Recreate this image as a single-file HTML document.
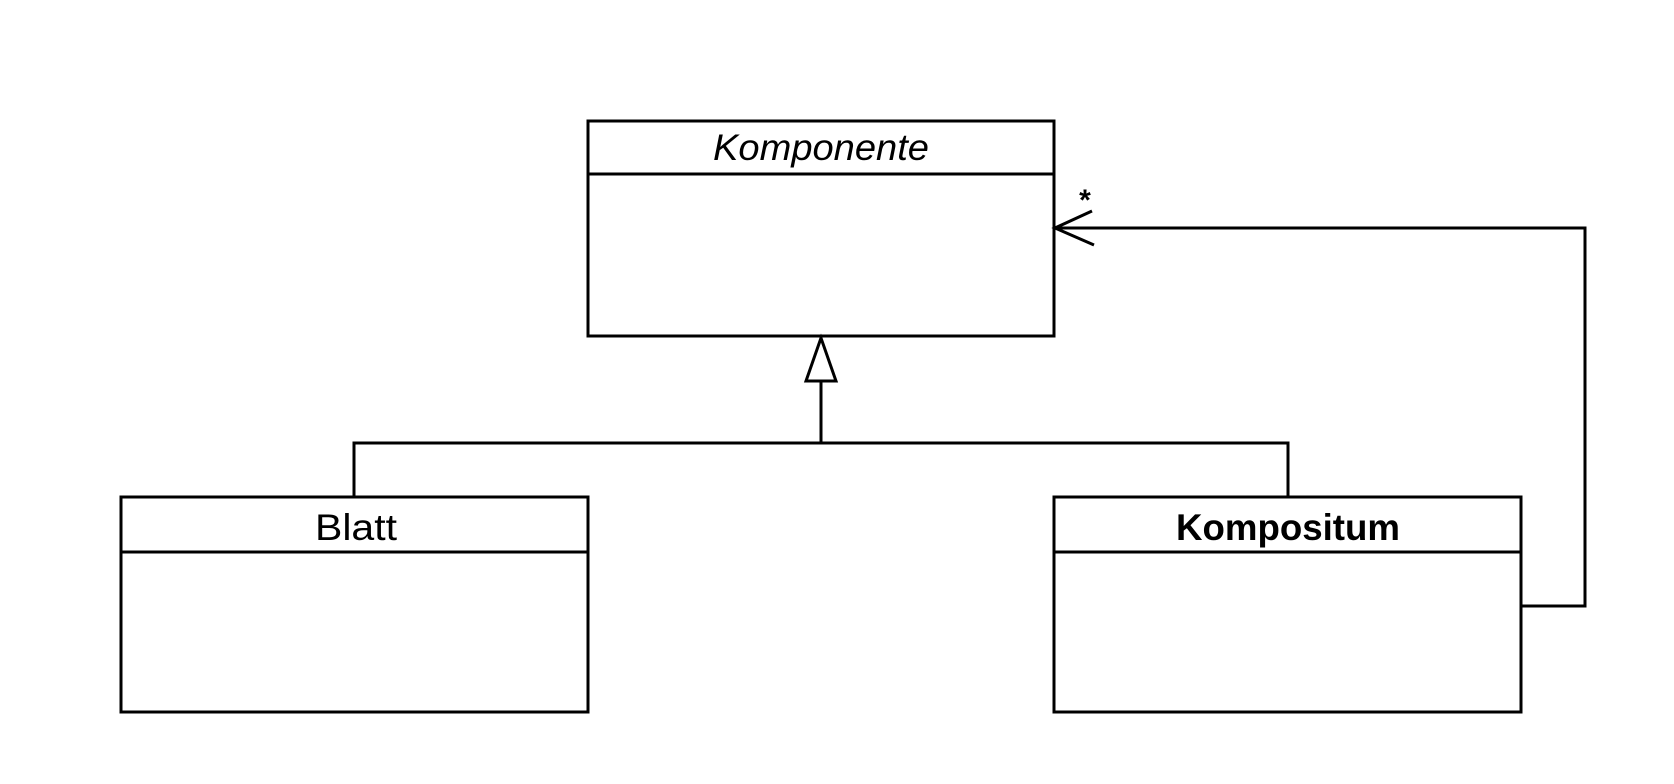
<!DOCTYPE html>
<html><head><meta charset="utf-8"><style>html,body{margin:0;padding:0;background:#fff;width:1674px;height:784px;overflow:hidden}</style></head>
<body>
<svg width="1674" height="784" viewBox="0 0 1674 784" xmlns="http://www.w3.org/2000/svg" font-family="'Liberation Sans', sans-serif" font-size="37">
<g fill="none" stroke="#000" stroke-width="3">
<rect x="588" y="121" width="466" height="215" fill="#fff"/>
<line x1="588" y1="174" x2="1054" y2="174"/>
<rect x="121" y="497" width="467" height="215" fill="#fff"/>
<line x1="121" y1="552" x2="588" y2="552"/>
<rect x="1054" y="497" width="467" height="215" fill="#fff"/>
<line x1="1054" y1="552" x2="1521" y2="552"/>
<polyline points="354,497 354,443 1288,443 1288,497"/>
<line x1="821" y1="443" x2="821" y2="381"/>
<polygon points="821,338 806,381 836,381" fill="#fff"/>
<polyline points="1521,606 1585,606 1585,228 1055,228"/>
<polyline points="1092,211 1055,228 1094,245"/>
</g>
<text x="713" y="160" textLength="216" lengthAdjust="spacingAndGlyphs" font-style="italic">Komponente</text>
<text x="315" y="540" textLength="82" lengthAdjust="spacingAndGlyphs">Blatt</text>
<text x="1176" y="540" textLength="224" lengthAdjust="spacingAndGlyphs" font-weight="bold">Kompositum</text>
<text x="1085" y="210" text-anchor="middle" font-weight="bold" font-size="30">*</text>
</svg>
</body></html>
